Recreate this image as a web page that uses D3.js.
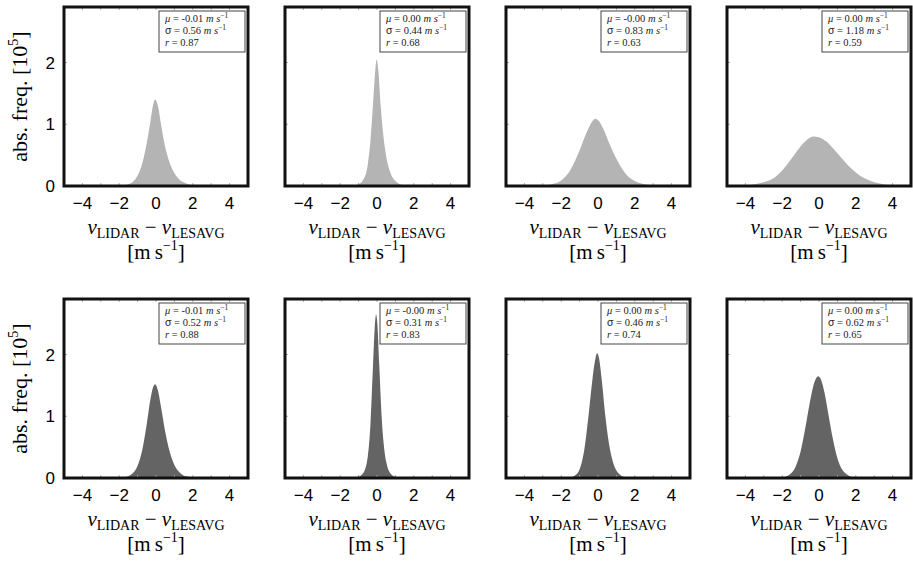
<!DOCTYPE html>
<html>
<head>
<meta charset="utf-8">
<script src="https://cdn.jsdelivr.net/npm/d3@7"></script>
<style>
  body { margin: 0; background: #fff; }
  svg { display: block; }
</style>
</head>
<body>
<div id="chart"></div>
<script>
// values (abs. freq. in 1e5)
var xTicks = [-4, -2, 0, 2, 4];
var yTicks = [0, 1, 2];

var x1 = [-2.5, -1.75, -1.5, -1.25, -1, -0.75, -0.5, -0.3, -0.15, -0.05, 0.1, 0.3, 0.5, 0.75, 1, 1.25, 1.5, 1.75, 2, 2.5];
var y1 = [0, 0.01, 0.03, 0.07, 0.17, 0.36, 0.7, 1.05, 1.32, 1.4, 1.3, 0.95, 0.63, 0.37, 0.21, 0.11, 0.06, 0.03, 0.01, 0];

var x2 = [-2, -1.25, -1, -0.75, -0.5, -0.35, -0.2, -0.1, -0.02, 0.08, 0.2, 0.35, 0.5, 0.75, 1, 1.25, 1.5, 2];
var y2 = [0, 0.01, 0.03, 0.1, 0.35, 0.75, 1.4, 1.85, 2.05, 1.85, 1.3, 0.8, 0.48, 0.2, 0.08, 0.03, 0.01, 0];

var x3 = [-3.5, -3, -2.5, -2, -1.5, -1, -0.6, -0.3, -0.15, 0.05, 0.3, 0.6, 1, 1.5, 2, 2.5, 3, 3.5];
var y3 = [0, 0.01, 0.03, 0.09, 0.26, 0.58, 0.88, 1.05, 1.09, 1.05, 0.92, 0.7, 0.44, 0.2, 0.08, 0.03, 0.01, 0];

var x4 = [-4.8, -4, -3.5, -3, -2.5, -2, -1.5, -1, -0.6, -0.3, 0, 0.4, 0.8, 1.2, 1.6, 2, 2.5, 3, 3.5, 4, 4.8];
var y4 = [0, 0.01, 0.03, 0.06, 0.12, 0.25, 0.44, 0.64, 0.76, 0.8, 0.79, 0.72, 0.6, 0.46, 0.33, 0.22, 0.12, 0.06, 0.03, 0.01, 0];

var x5 = [-2.5, -1.75, -1.5, -1.25, -1, -0.75, -0.5, -0.3, -0.15, -0.05, 0.1, 0.3, 0.5, 0.75, 1, 1.25, 1.5, 1.75, 2, 2.5];
var y5 = [0, 0.01, 0.03, 0.08, 0.2, 0.45, 0.88, 1.28, 1.48, 1.52, 1.42, 1.1, 0.75, 0.42, 0.21, 0.1, 0.04, 0.02, 0.01, 0];

var x6 = [-1.5, -1, -0.75, -0.5, -0.35, -0.22, -0.12, -0.05, 0.02, 0.12, 0.25, 0.4, 0.55, 0.75, 1, 1.5];
var y6 = [0, 0.02, 0.08, 0.35, 0.9, 1.8, 2.45, 2.65, 2.5, 1.85, 1.0, 0.45, 0.2, 0.07, 0.02, 0];

var x7 = [-2, -1.5, -1.25, -1, -0.75, -0.5, -0.3, -0.15, -0.05, 0.05, 0.2, 0.4, 0.6, 0.8, 1, 1.25, 1.5, 2];
var y7 = [0, 0.01, 0.04, 0.14, 0.45, 1.05, 1.6, 1.92, 2.02, 1.95, 1.6, 1.0, 0.55, 0.27, 0.12, 0.04, 0.01, 0];

var x8 = [-2.5, -2, -1.75, -1.5, -1.25, -1, -0.75, -0.5, -0.25, -0.05, 0.1, 0.3, 0.5, 0.75, 1, 1.25, 1.5, 1.75, 2, 2.5];
var y8 = [0, 0.01, 0.03, 0.08, 0.2, 0.43, 0.8, 1.22, 1.55, 1.65, 1.6, 1.38, 1.05, 0.64, 0.32, 0.14, 0.06, 0.02, 0.01, 0];

var panelX = [x1, x2, x3, x4, x5, x6, x7, x8];
var panelY = [y1, y2, y3, y4, y5, y6, y7, y8];
var mus = ["-0.01", "0.00", "-0.00", "0.00", "-0.01", "-0.00", "0.00", "0.00"];
var sigmas = ["0.56", "0.44", "0.83", "1.18", "0.52", "0.31", "0.46", "0.62"];
var rs = ["0.87", "0.68", "0.63", "0.59", "0.88", "0.83", "0.74", "0.65"];
var fills = ["#b4b4b4", "#646464"];

var width = 913, height = 561;
var panelW = 184, panelH = 179;
var lefts = [64, 285, 506, 727];
var tops = [7, 299];
var serif = "'Liberation Serif', 'DejaVu Serif', serif";
var sans = "'Liberation Sans', Arial, sans-serif";

var svg = d3.select("#chart").append("svg")
    .attr("width", width)
    .attr("height", height);

var xScale = d3.scaleLinear().domain([-5, 5]).range([0, panelW]);
var yScale = d3.scaleLinear().domain([0, 2.9]).range([panelH, 0]);

var area = d3.area()
    .x(function(d) { return xScale(d[0]); })
    .y0(yScale(0))
    .y1(function(d) { return yScale(d[1]); })
    .curve(d3.curveMonotoneX);

for (var i = 0; i < 8; i++) {
    var row = Math.floor(i / 4), col = i % 4;
    var g = svg.append("g")
        .attr("transform", "translate(" + lefts[col] + "," + tops[row] + ")");

    var pts = panelX[i].map(function(v, k) { return [v, panelY[i][k]]; });
    g.append("path")
        .datum(pts)
        .attr("d", area)
        .attr("fill", fills[row]);

    // faint inner ticks
    g.selectAll(".tb").data(d3.range(-5, 5.01, 1)).enter().append("line")
        .attr("x1", function(d) { return xScale(d); })
        .attr("x2", function(d) { return xScale(d); })
        .attr("y1", 0).attr("y2", 3)
        .attr("stroke", "#aaa").attr("stroke-width", 1);
    g.selectAll(".tbb").data(d3.range(-5, 5.01, 1)).enter().append("line")
        .attr("x1", function(d) { return xScale(d); })
        .attr("x2", function(d) { return xScale(d); })
        .attr("y1", panelH - 3).attr("y2", panelH)
        .attr("stroke", "#aaa").attr("stroke-width", 1);
    g.selectAll(".tl").data([1, 2]).enter().append("line")
        .attr("x1", 0).attr("x2", 3)
        .attr("y1", function(d) { return yScale(d); })
        .attr("y2", function(d) { return yScale(d); })
        .attr("stroke", "#aaa").attr("stroke-width", 1);

    // frame
    g.append("rect")
        .attr("x", 0).attr("y", 0)
        .attr("width", panelW).attr("height", panelH)
        .attr("fill", "none")
        .attr("stroke", "#111")
        .attr("stroke-width", 3);

    // x tick labels
    g.selectAll(".xt").data(xTicks).enter().append("text")
        .attr("x", function(d) { return xScale(d); })
        .attr("y", panelH + 23)
        .attr("text-anchor", "middle")
        .attr("font-family", sans)
        .attr("font-size", 17)
        .text(function(d) { return d < 0 ? "\u2212" + Math.abs(d) : d; });

    // x label
    var xl = g.append("text")
        .attr("x", panelW / 2)
        .attr("y", panelH + 48)
        .attr("text-anchor", "middle")
        .attr("font-family", serif)
        .attr("font-size", 21);
    xl.append("tspan").attr("font-style", "italic").text("v");
    xl.append("tspan").attr("font-size", 14).attr("dy", 4).text("LIDAR");
    xl.append("tspan").attr("dy", -4).text(" \u2212 ");
    xl.append("tspan").attr("font-style", "italic").text("v");
    xl.append("tspan").attr("font-size", 14).attr("dy", 4).text("LESAVG");

    var ul = g.append("text")
        .attr("x", panelW / 2)
        .attr("y", panelH + 73)
        .attr("text-anchor", "middle")
        .attr("font-family", serif)
        .attr("font-size", 21);
    ul.append("tspan").text("[m\u2009s");
    ul.append("tspan").attr("font-size", 14).attr("dy", -9).text("\u22121");
    ul.append("tspan").attr("dy", 9).text("]");

    // stats box
    var bw = 86, bh = 41;
    var bx = panelW - bw - 3, by = 4;
    var box = g.append("g").attr("transform", "translate(" + bx + "," + by + ")");
    box.append("rect")
        .attr("width", bw).attr("height", bh)
        .attr("fill", "#fff")
        .attr("stroke", "#444")
        .attr("stroke-width", 1);
    var lines = [
        [["\u03bc", true, serif], [" = " + mus[i] + " ", false, serif], ["m", true, serif], [" ", false, serif], ["s", true, serif]],
        [["\u03c3", false, sans], [" = " + sigmas[i] + " ", false, serif], ["m", true, serif], [" ", false, serif], ["s", true, serif]],
        [["r", true, serif], [" = " + rs[i], false, serif]]
    ];
    lines.forEach(function(parts, li) {
        var t = box.append("text")
            .attr("x", 6)
            .attr("y", 11 + li * 12)
            .attr("font-family", serif)
            .attr("font-size", 10.5)
            .attr("fill", "#222");
        parts.forEach(function(p) {
            t.append("tspan")
                .attr("font-style", p[1] ? "italic" : "normal")
                .attr("font-family", p[2])
                .text(p[0]);
        });
        if (li < 2) {
            t.append("tspan").attr("font-size", 7.5).attr("dy", -4).text("\u22121");
        }
    });

    if (col === 0) {
        // y tick labels
        g.selectAll(".yt").data(yTicks).enter().append("text")
            .attr("x", -9)
            .attr("y", function(d) { return yScale(d); })
            .attr("dy", "0.35em")
            .attr("text-anchor", "end")
            .attr("font-family", sans)
            .attr("font-size", 17)
            .text(function(d) { return d; });

        var yl = g.append("text")
            .attr("transform", "translate(-37," + (panelH / 2) + ") rotate(-90)")
            .attr("text-anchor", "middle")
            .attr("font-family", serif)
            .attr("font-size", 22);
        yl.append("tspan").text("abs. freq. [10");
        yl.append("tspan").attr("font-size", 14).attr("dy", -9).text("5");
        yl.append("tspan").attr("dy", 9).text("]");
    }
}
</script>
</body>
</html>
